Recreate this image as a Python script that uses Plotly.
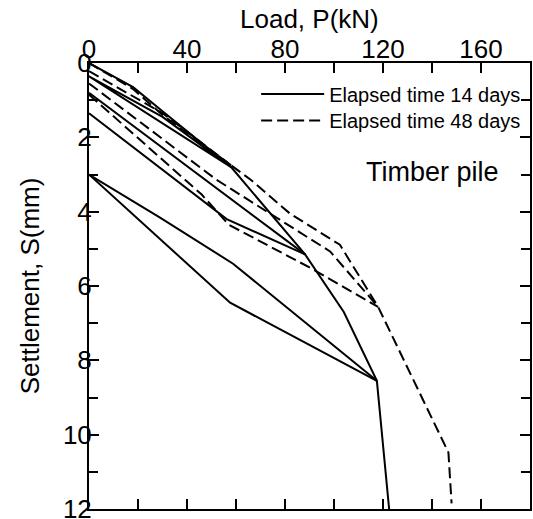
import plotly.graph_objects as go

# ---- Data ----
X_TICKS = [0, 40, 80, 120, 160]
Y_TICKS = [0, 2, 4, 6, 8, 10, 12]

# Elapsed time 14 days (solid)
S14_ENV_P = [0, 18, 30, 58, 88.2, 104, 117.5, 122.5]
S14_ENV_S = [0, 0.65, 1.3, 2.8, 5.15, 6.7, 8.55, 12.0]
S14_C1_P = [58, 0, 30, 58]
S14_C1_S = [2.8, 0.36, 1.45, 2.8]
S14_C2_P = [88.2, 0]
S14_C2_S = [5.15, 0.8]
S14_C3_P = [0, 56.2, 88.2]
S14_C3_S = [1.35, 4.2, 5.15]
S14_C4_P = [117.5, 58.8, 29, 0]
S14_C4_S = [8.55, 5.4, 4.16, 3.0]
S14_C5_P = [0, 57.6, 117.5]
S14_C5_S = [3.0, 6.45, 8.55]

# Elapsed time 48 days (dashed)
S48_ENV_P = [0, 18, 30, 58, 66, 82, 102.4, 118, 146.7, 148]
S48_ENV_S = [0, 0.7, 1.4, 2.75, 3.14, 4.05, 4.89, 6.56, 10.48, 11.85]
S48_C1_P = [0, 30, 58]
S48_C1_S = [0.22, 1.35, 2.75]
S48_C2_P = [0, 52, 98.4, 118]
S48_C2_S = [0.55, 3.14, 5.07, 6.56]
S48_C3_P = [0, 46, 57, 90, 118]
S48_C3_S = [0.85, 3.54, 4.35, 5.5, 6.56]

SOLID = [(S14_ENV_P, S14_ENV_S), (S14_C1_P, S14_C1_S), (S14_C2_P, S14_C2_S),
         (S14_C3_P, S14_C3_S), (S14_C4_P, S14_C4_S), (S14_C5_P, S14_C5_S)]
DASHED = [(S48_ENV_P, S48_ENV_S), (S48_C1_P, S48_C1_S), (S48_C2_P, S48_C2_S),
          (S48_C3_P, S48_C3_S)]

FONT = "Liberation Sans, Arial, Helvetica, sans-serif"

fig = go.Figure()
for i, (p, s) in enumerate(SOLID):
    fig.add_trace(go.Scatter(x=p, y=s, mode="lines",
                             line=dict(color="black", width=2),
                             name="Elapsed time 14 days", legend="legend",
                             showlegend=(i == 0), hoverinfo="skip"))
for i, (p, s) in enumerate(DASHED):
    fig.add_trace(go.Scatter(x=p, y=s, mode="lines",
                             line=dict(color="black", width=2, dash="11px,5px"),
                             name="Elapsed time 48 days", legend="legend2",
                             showlegend=(i == 0), hoverinfo="skip"))

fig.add_annotation(x=140, y=2.92, xref="x", yref="y", text="Timber pile",
                   showarrow=False, font=dict(family=FONT, size=27, color="black"))
# x-axis title (placed just above the top tick labels)
fig.add_annotation(x=0.5, y=1, xref="paper", yref="paper", yanchor="bottom",
                   yshift=27, text="Load, P(kN)", showarrow=False,
                   font=dict(family=FONT, size=26, color="black"))

axis_common = dict(showgrid=False, zeroline=False, showline=True, linecolor="black",
                   linewidth=2, mirror="ticks", ticks="inside", ticklen=10,
                   tickwidth=1.5, tickcolor="black", ticklabeloverflow="allow",
                   automargin=False,
                   tickfont=dict(family=FONT, size=26, color="black"))

fig.update_xaxes(**axis_common, side="top", range=[0, 180], tickvals=X_TICKS,
                 ticktext=[str(v) for v in X_TICKS], ticklabelstandoff=-7,
                 minor=dict(dtick=20, ticks="inside", ticklen=10, tickwidth=1.5,
                            tickcolor="black"))
fig.update_yaxes(**axis_common, range=[12, 0], tickvals=Y_TICKS,
                 ticktext=[str(v) for v in Y_TICKS], ticklabelstandoff=-10,
                 minor=dict(dtick=1, ticks="inside", ticklen=9, tickwidth=1.5,
                            tickcolor="black"),
                 title=dict(text="Settlement, S(mm)", standoff=16,
                            font=dict(family=FONT, size=26, color="black")))

legend_common = dict(xanchor="left", yanchor="top", bgcolor="rgba(0,0,0,0)",
                     itemwidth=63, font=dict(family=FONT, size=20, color="black"))
fig.update_layout(width=533, height=519, margin=dict(l=89, r=3, t=63, b=10),
                  plot_bgcolor="white", paper_bgcolor="white",
                  font=dict(family=FONT, color="black"),
                  legend=dict(x=0.379, y=0.974, **legend_common),
                  legend2=dict(x=0.379, y=0.915, **legend_common))

fig.write_html("out.html")
